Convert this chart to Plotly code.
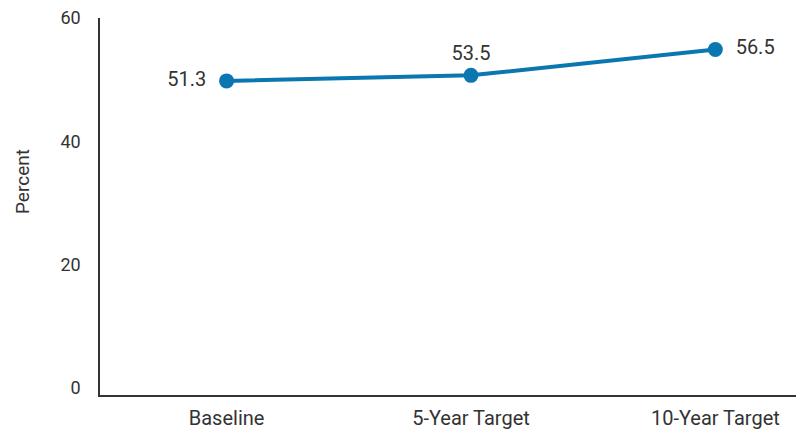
import plotly.graph_objects as go

categories = ["Baseline", "5-Year Target", "10-Year Target"]
plotted_values = [49.8, 50.7, 54.9]
value_labels = ["51.3  ", "53.5", "  56.5"]
label_positions = ["middle left", "top center", "middle right"]
y_ticks = [0, 20, 40, 60]

W, H = 796, 432
ml, mr, mt, mb = 100, 0, 18, 37

fig = go.Figure()
fig.add_trace(go.Scatter(
    x=categories, y=plotted_values,
    mode="lines+markers+text",
    line=dict(color="#0a77b0", width=4),
    marker=dict(color="#0a77b0", size=15),
    text=value_labels,
    textposition=label_positions,
    textfont=dict(family="Roboto", size=20, color="#333333"),
    cliponaxis=False,
    showlegend=False,
))

fig.update_layout(
    width=W, height=H,
    margin=dict(l=ml, r=mr, t=mt, b=mb, autoexpand=False),
    paper_bgcolor="white", plot_bgcolor="white",
    font=dict(family="Roboto", size=18, color="#333333"),
    xaxis=dict(
        type="category", range=[-0.518, 2.33], automargin=False,
        showline=True, linecolor="#333333", linewidth=1.5,
        showgrid=False, zeroline=False, ticks="",
        ticklabelstandoff=4,
        tickfont=dict(size=20, color="#333333"),
    ),
    yaxis=dict(
        range=[-1.135, 60], tickvals=y_ticks, automargin=False,
        showline=True, linecolor="#333333", linewidth=1.5,
        showgrid=False, zeroline=False, ticks="",
        ticklabelstandoff=14,
        tickfont=dict(size=18, color="#333333"),
    ),
    annotations=[dict(
        text="Percent", textangle=-90,
        x=(22 - ml) / (W - ml - mr), y=(H - mb - 182) / (H - mt - mb),
        xref="paper", yref="paper",
        xanchor="center", yanchor="middle", showarrow=False,
        font=dict(size=19, color="#333333"),
    )],
)

fig.write_html("out.html")
